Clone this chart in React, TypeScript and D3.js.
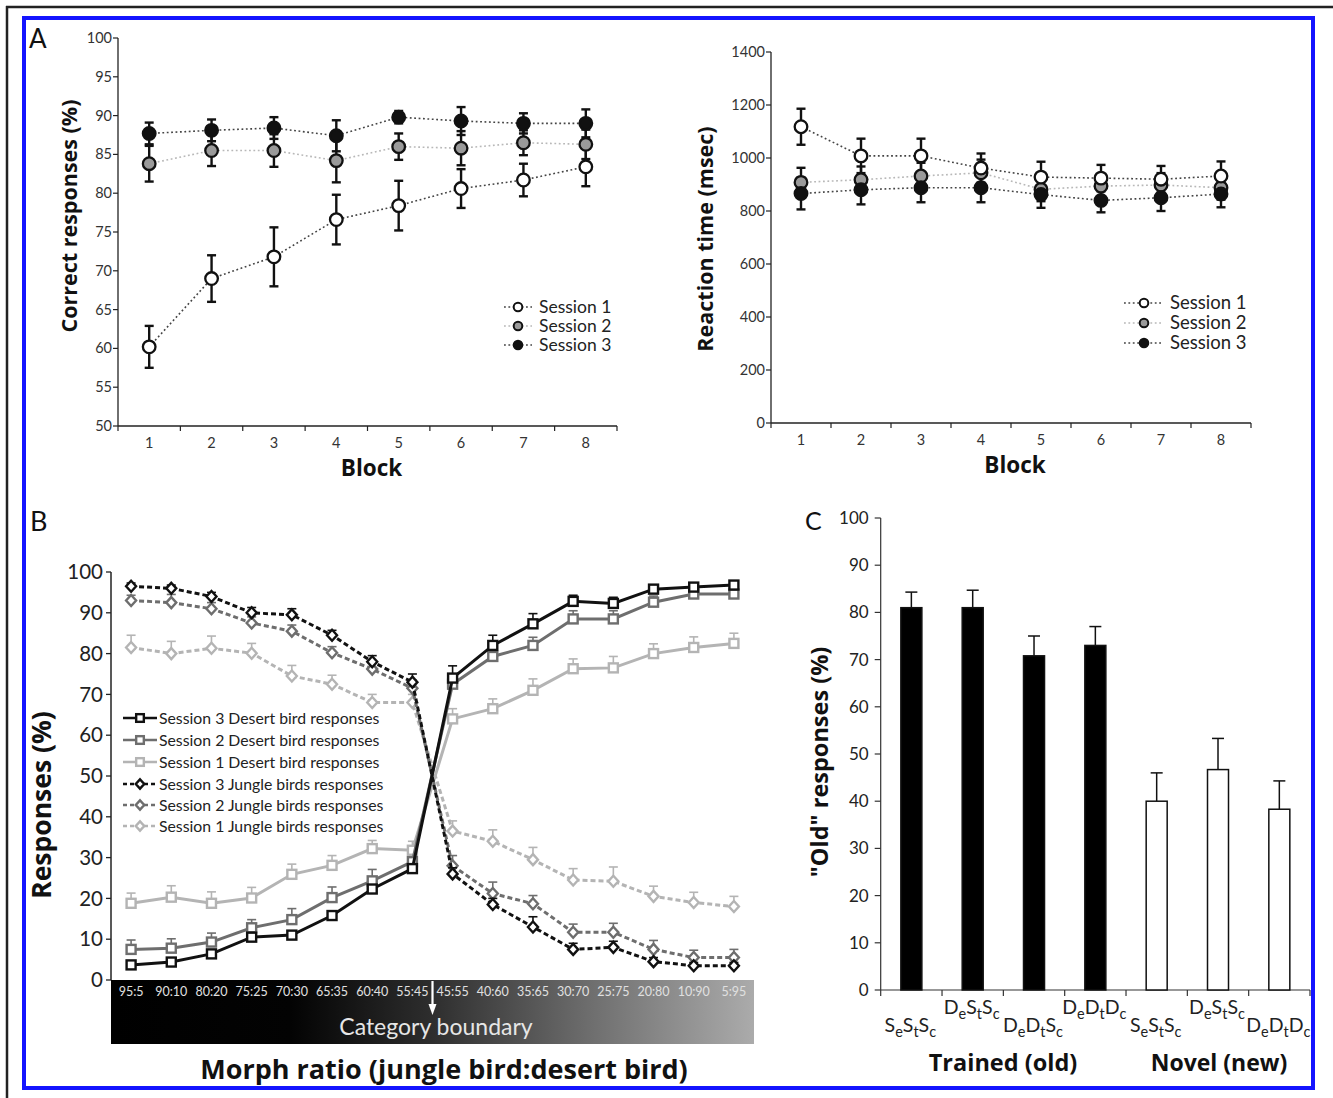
import React from 'react';
import * as d3 from 'd3';

const W = 1333, H = 1098;
const FONT = 'Lato, "Open Sans", sans-serif';
const BOLD = '"Open Sans", "Noto Sans", sans-serif';

// ---------- Panel A data ----------
const blocks = [1, 2, 3, 4, 5, 6, 7, 8];
const accS1 = [60.2, 69.0, 71.8, 76.6, 78.4, 80.6, 81.7, 83.4];
const accS1Err = [2.7, 3.0, 3.8, 3.2, 3.2, 2.5, 2.1, 2.5];
const accS2 = [83.8, 85.5, 85.5, 84.2, 86.0, 85.8, 86.5, 86.3];
const accS2Err = [2.3, 2.0, 2.1, 2.8, 1.7, 2.2, 1.6, 1.9];
const accS3 = [87.7, 88.1, 88.4, 87.4, 89.8, 89.3, 89.0, 89.0];
const accS3Err = [1.4, 1.4, 1.4, 2.0, 0.8, 1.8, 1.3, 1.8];
const accTicks = [50, 55, 60, 65, 70, 75, 80, 85, 90, 95, 100];

const rtS1 = [1118, 1008, 1008, 962, 928, 924, 920, 932];
const rtS1Err = [68, 65, 65, 55, 58, 50, 50, 55];
const rtS2 = [908, 918, 932, 944, 882, 894, 898, 888];
const rtS2Err = [55, 50, 50, 50, 45, 45, 45, 45];
const rtS3 = [866, 880, 888, 888, 862, 840, 850, 864];
const rtS3Err = [60, 55, 55, 55, 50, 45, 50, 50];
const rtTicks = [0, 200, 400, 600, 800, 1000, 1200, 1400];
const sessionNames = ['Session 1', 'Session 2', 'Session 3'];

// ---------- Panel B data ----------
const ratios = ['95:5', '90:10', '80:20', '75:25', '70:30', '65:35', '60:40', '55:45', '45:55', '40:60', '35:65', '30:70', '25:75', '20:80', '10:90', '5:95'];
const s3Desert = [3.7, 4.4, 6.4, 10.5, 11.0, 15.8, 22.3, 27.3, 74.0, 82.0, 87.3, 92.8, 92.3, 95.8, 96.3, 96.8];
const s3DesertErr = [0.6, 0.6, 0.8, 0.8, 1.0, 0.8, 1.0, 1.0, 3.0, 2.5, 2.5, 1.5, 1.5, 1.0, 1.0, 1.0];
const s2Desert = [7.5, 7.8, 9.3, 12.8, 14.8, 20.2, 24.3, 29.0, 72.5, 79.3, 82.0, 88.5, 88.5, 92.6, 94.6, 94.6];
const s2DesertErr = [2.3, 2.3, 2.2, 2.0, 2.7, 2.6, 2.8, 1.0, 2.0, 2.0, 2.0, 2.0, 2.0, 1.5, 1.0, 1.0];
const s1Desert = [18.8, 20.3, 18.8, 20.1, 25.9, 28.1, 32.2, 31.8, 64.0, 66.5, 71.0, 76.3, 76.5, 80.0, 81.5, 82.5];
const s1DesertErr = [2.5, 2.8, 2.8, 2.6, 2.5, 2.4, 2.0, 2.2, 2.5, 2.4, 2.8, 2.4, 2.8, 2.4, 2.6, 2.5];
const s3Jungle = [96.5, 96.0, 94.0, 90.0, 89.5, 84.5, 78.0, 73.0, 26.0, 18.5, 13.0, 7.5, 8.0, 4.5, 3.5, 3.5];
const s3JungleErr = [0.8, 0.8, 1.0, 1.3, 1.5, 1.2, 1.5, 2.0, 1.5, 1.5, 2.5, 1.5, 1.5, 1.0, 0.8, 0.8];
const s2Jungle = [93.0, 92.5, 91.0, 87.5, 85.5, 80.2, 76.2, 71.5, 28.0, 21.2, 18.7, 11.7, 11.7, 7.5, 5.5, 5.5];
const s2JungleErr = [1.3, 2.0, 1.5, 1.5, 1.5, 1.5, 1.5, 2.0, 2.5, 2.8, 2.0, 2.0, 2.2, 2.2, 1.8, 2.0];
const s1Jungle = [81.5, 80.0, 81.3, 80.1, 74.5, 72.5, 68.0, 68.0, 36.5, 34.0, 29.5, 24.5, 24.2, 20.5, 19.0, 18.0];
const s1JungleErr = [3.0, 3.0, 3.0, 2.4, 2.6, 2.2, 2.0, 2.0, 2.5, 2.8, 3.0, 2.8, 3.5, 2.5, 2.5, 2.5];
const bTicks = [0, 10, 20, 30, 40, 50, 60, 70, 80, 90, 100];
const bLegend = [
  'Session 3 Desert bird responses',
  'Session 2 Desert bird responses',
  'Session 1 Desert bird responses',
  'Session 3 Jungle birds responses',
  'Session 2 Jungle birds responses',
  'Session 1 Jungle birds responses',
];

// ---------- Panel C data ----------
const cLabels = ['SeStSc', 'DeStSc', 'DeDtSc', 'DeDtDc', 'SeStSc', 'DeStSc', 'DeDtDc'];
const cVals = [81.0, 81.0, 70.8, 73.0, 40.0, 46.7, 38.3];
const cErr = [3.3, 3.7, 4.2, 4.0, 6.0, 6.6, 6.0];
const cTrained = [true, true, true, true, false, false, false];
const cTicks = [0, 10, 20, 30, 40, 50, 60, 70, 80, 90, 100];

// ---------- helpers ----------
type Pt = { x: number; y: number };

function Circ({ x, y, r, fill }: { x: number; y: number; r: number; fill: string }) {
  return <circle cx={x} cy={y} r={r} fill={fill} stroke="#111" strokeWidth={2.3} />;
}

function PanelA() {
  const xL = d3.scaleBand<number>().domain(blocks).range([118, 617]);
  const yL = d3.scaleLinear().domain([50, 100]).range([426, 38]);
  const xR = d3.scaleBand<number>().domain(blocks).range([771, 1251]);
  const yR = d3.scaleLinear().domain([0, 1400]).range([423, 52]);

  const series = [
    { acc: accS1, accE: accS1Err, rt: rtS1, rtE: rtS1Err, fill: '#ffffff', line: '#444' },
    { acc: accS2, accE: accS2Err, rt: rtS2, rtE: rtS2Err, fill: '#9a9a9a', line: '#b8b8b8' },
    { acc: accS3, accE: accS3Err, rt: rtS3, rtE: rtS3Err, fill: '#111111', line: '#444' },
  ];

  const renderChart = (
    xs: d3.ScaleBand<number>,
    ys: d3.ScaleLinear<number, number>,
    key: 'acc' | 'rt',
    ticks: number[],
    yLabel: string,
    yLabelX: number,
    yLabelY: number,
    legend: { lx0: number; lx1: number; mx: number; tx: number; ys: number[]; fs: number },
  ) => {
    const cx = (b: number) => (xs(b) as number) + xs.bandwidth() / 2;
    const [y0, y1] = ys.range();
    const [x0, x1] = xs.range();
    const lineGen = d3.line<Pt>().x(d => d.x).y(d => d.y);
    const bounds = d3.range(blocks.length + 1).map(i => x0 + i * xs.bandwidth());
    const order = [1, 0, 2];
    return (
      <g>
        <line x1={x0} x2={x0} y1={y1} y2={y0} stroke="#222" strokeWidth={1.3} />
        <line x1={x0} x2={x1} y1={y0} y2={y0} stroke="#222" strokeWidth={1.3} />
        {ticks.map(t => (
          <g key={t}>
            <line x1={x0 - 5} x2={x0} y1={ys(t)} y2={ys(t)} stroke="#222" strokeWidth={1.2} />
            <text x={x0 - 6} y={ys(t)} dy="0.35em" textAnchor="end" fontSize={14.5} fill="#333" fontFamily={FONT}>{t}</text>
          </g>
        ))}
        {bounds.map((b, i) => (
          <line key={i} x1={b} x2={b} y1={y0} y2={y0 + 5} stroke="#222" strokeWidth={1.2} />
        ))}
        {blocks.map(b => (
          <text key={b} x={cx(b)} y={y0 + 22} textAnchor="middle" fontSize={14.5} fill="#333" fontFamily={FONT}>{b}</text>
        ))}
        <text x={(x0 + x1) / 2 + 4} y={y0 + 50} textAnchor="middle" fontSize={22.5} fontWeight="bold" fill="#111" fontFamily={BOLD}>Block</text>
        <text transform={`translate(${yLabelX},${yLabelY}) rotate(-90)`} textAnchor="middle" fontSize={21.5} fontWeight="bold" fill="#111" fontFamily={BOLD}>{yLabel}</text>
        {order.map(si => {
          const s = series[si];
          const vals = s[key];
          const pts = blocks.map((b, i) => ({ x: cx(b), y: ys(vals[i]) }));
          return <path key={'l' + si} d={lineGen(pts) || ''} fill="none" stroke={s.line} strokeWidth={1.6} strokeDasharray="1.8,2.6" />;
        })}
        {order.map(si => {
          const s = series[si];
          const vals = s[key];
          const errs = key === 'acc' ? s.accE : s.rtE;
          return (
            <g key={'e' + si}>
              {blocks.map((b, i) => {
                const x = cx(b);
                const ya = ys(vals[i] + errs[i]);
                const yb = ys(vals[i] - errs[i]);
                return (
                  <g key={i} stroke="#111" strokeWidth={2.4}>
                    <line x1={x} x2={x} y1={ya} y2={yb} />
                    <line x1={x - 4.5} x2={x + 4.5} y1={ya} y2={ya} />
                    <line x1={x - 4.5} x2={x + 4.5} y1={yb} y2={yb} />
                  </g>
                );
              })}
            </g>
          );
        })}
        {order.map(si => {
          const s = series[si];
          const vals = s[key];
          return (
            <g key={'m' + si}>
              {blocks.map((b, i) => (
                <Circ key={i} x={cx(b)} y={ys(vals[i])} r={6.3} fill={s.fill} />
              ))}
            </g>
          );
        })}
        {series.map((s, i) => (
          <g key={'lg' + i}>
            <line x1={legend.lx0} x2={legend.lx1} y1={legend.ys[i]} y2={legend.ys[i]} stroke={s.line} strokeWidth={1.6} strokeDasharray="1.8,2.6" />
            <circle cx={legend.mx} cy={legend.ys[i]} r={4.3} fill={s.fill} stroke="#111" strokeWidth={2} />
            <text x={legend.tx} y={legend.ys[i]} dy="0.35em" fontSize={legend.fs} fill="#222" fontFamily={FONT}>{sessionNames[i]}</text>
          </g>
        ))}
      </g>
    );
  };

  return (
    <g>
      {renderChart(xL, yL, 'acc', accTicks, 'Correct responses (%)', 77, 216, { lx0: 504, lx1: 532, mx: 518, tx: 539, ys: [307, 326, 345], fs: 17.5 })}
      {renderChart(xR, yR, 'rt', rtTicks, 'Reaction time (msec)', 713, 239, { lx0: 1124, lx1: 1162, mx: 1144, tx: 1170, ys: [303, 323, 343], fs: 18.5 })}
    </g>
  );
}

function PanelB() {
  const x = d3.scaleBand<string>().domain(ratios).range([111, 754]);
  const y = d3.scaleLinear().domain([0, 100]).range([980, 572]);
  const cx = (r: string) => (x(r) as number) + x.bandwidth() / 2;
  const lineGen = d3.line<Pt>().x(d => d.x).y(d => d.y);

  const series = [
    { v: s1Jungle, e: s1JungleErr, c: '#b4b4b4', dash: true, shape: 'd' },
    { v: s1Desert, e: s1DesertErr, c: '#b4b4b4', dash: false, shape: 's' },
    { v: s2Jungle, e: s2JungleErr, c: '#6e6e6e', dash: true, shape: 'd' },
    { v: s2Desert, e: s2DesertErr, c: '#6e6e6e', dash: false, shape: 's' },
    { v: s3Jungle, e: s3JungleErr, c: '#111111', dash: true, shape: 'd' },
    { v: s3Desert, e: s3DesertErr, c: '#111111', dash: false, shape: 's' },
  ];
  const legendStyle = [
    { c: '#111111', dash: false, shape: 's' },
    { c: '#6e6e6e', dash: false, shape: 's' },
    { c: '#b4b4b4', dash: false, shape: 's' },
    { c: '#111111', dash: true, shape: 'd' },
    { c: '#6e6e6e', dash: true, shape: 'd' },
    { c: '#b4b4b4', dash: true, shape: 'd' },
  ];
  const legendY = [718, 740, 762, 784, 805, 826];

  const marker = (shape: string, px: number, py: number, c: string, k: string, size = 1) =>
    shape === 's' ? (
      <rect key={k} x={px - 4.5 * size} y={py - 4.5 * size} width={9 * size} height={9 * size} fill="#fff" stroke={c} strokeWidth={2.4} />
    ) : (
      <path key={k} d={`M${px},${py - 5.5 * size}L${px + 5 * size},${py}L${px},${py + 5.5 * size}L${px - 5 * size},${py}Z`} fill="#fff" stroke={c} strokeWidth={2.4} />
    );

  const [gx0, gx1] = x.range();
  const arrowX = (cx('55:45') + cx('45:55')) / 2;

  return (
    <g>
      <text x={30} y={531} fontSize={27} fill="#111" fontFamily={FONT}>B</text>
      <defs>
        <linearGradient id="morphGrad" x1="0" x2="1" y1="0" y2="0">
          <stop offset="0" stopColor="#000" />
          <stop offset="0.28" stopColor="#030303" />
          <stop offset="0.5" stopColor="#2e2e2e" />
          <stop offset="0.75" stopColor="#6f6f6f" />
          <stop offset="1" stopColor="#ababab" />
        </linearGradient>
      </defs>
      <rect x={gx0} y={980} width={gx1 - gx0} height={64} fill="url(#morphGrad)" />
      <line x1={gx0} x2={gx0} y1={572} y2={980} stroke="#222" strokeWidth={1.5} />
      {bTicks.map(t => (
        <g key={t}>
          <line x1={gx0 - 5} x2={gx0} y1={y(t)} y2={y(t)} stroke="#222" strokeWidth={1.3} />
          <text x={gx0 - 8} y={y(t)} dy="0.35em" textAnchor="end" fontSize={20.5} fill="#222" fontFamily={FONT}>{t}</text>
        </g>
      ))}
      <text transform={`translate(51,805) rotate(-90)`} textAnchor="middle" fontSize={26.5} fontWeight="bold" fill="#111" fontFamily={BOLD}>Responses (%)</text>
      {ratios.map(r => (
        <text key={r} x={cx(r)} y={996} textAnchor="middle" fontSize={12.5} fill="#e0e0e0" fontFamily={FONT}>{r}</text>
      ))}
      <line x1={arrowX} x2={arrowX} y1={981} y2={1006} stroke="#fff" strokeWidth={2.2} />
      <path d={`M${arrowX - 4},${1004}L${arrowX + 4},${1004}L${arrowX},${1015}Z`} fill="#fff" />
      <text x={436} y={1035} textAnchor="middle" fontSize={23} fill="#e6e6e6" fontFamily={FONT}>Category boundary</text>
      <text x={444} y={1079} textAnchor="middle" fontSize={27} fontWeight="bold" fill="#111" fontFamily={BOLD}>Morph ratio (jungle bird:desert bird)</text>
      {series.map((s, si) => {
        const pts = ratios.map((r, i) => ({ x: cx(r), y: y(s.v[i]) }));
        return (
          <g key={si}>
            <path d={lineGen(pts) || ''} fill="none" stroke={s.c} strokeWidth={3} strokeDasharray={s.dash ? '5,3' : undefined} />
            {ratios.map((r, i) => {
              const px = cx(r);
              const yt = y(s.v[i] + s.e[i]);
              return (
                <g key={'e' + i} stroke={s.c} strokeWidth={1.6}>
                  <line x1={px} x2={px} y1={y(s.v[i])} y2={yt} />
                  <line x1={px - 4.5} x2={px + 4.5} y1={yt} y2={yt} />
                </g>
              );
            })}
            {ratios.map((r, i) => marker(s.shape, cx(r), y(s.v[i]), s.c, 'm' + i))}
          </g>
        );
      })}
      {bLegend.map((name, i) => {
        const ls = legendStyle[i];
        return (
          <g key={'lg' + i}>
            <line x1={123} x2={157} y1={legendY[i]} y2={legendY[i]} stroke={ls.c} strokeWidth={2.4} strokeDasharray={ls.dash ? '4,3' : undefined} />
            {marker(ls.shape, 140, legendY[i], ls.c, 'lm' + i, 0.85)}
            <text x={159} y={legendY[i]} dy="0.35em" fontSize={15.8} fill="#222" fontFamily={FONT}>{name}</text>
          </g>
        );
      })}
    </g>
  );
}

function SubLabel({ x, y, label }: { x: number; y: number; label: string }) {
  const parts: { big: string; small: string }[] = [];
  for (let i = 0; i < label.length; i += 2) parts.push({ big: label[i], small: label[i + 1] });
  return (
    <text x={x} y={y} textAnchor="middle" fontSize={19.5} fill="#222" fontFamily={FONT}>
      {parts.map((p, i) => (
        <React.Fragment key={i}>
          <tspan dy={i === 0 ? 0 : -5} fontSize={19.5}>{p.big}</tspan>
          <tspan dy={5} fontSize={14.5}>{p.small}</tspan>
        </React.Fragment>
      ))}
    </text>
  );
}

function PanelC() {
  const idx = cVals.map((_, i) => i);
  const x = d3.scaleBand<number>().domain(idx).range([880.7, 1310]);
  const y = d3.scaleLinear().domain([0, 100]).range([990, 518]);
  const bw = 21;
  const cx = (i: number) => (x(i) as number) + x.bandwidth() / 2;
  const [x0, x1] = x.range();
  const bounds = d3.range(idx.length + 1).map(i => x0 + i * x.bandwidth());
  return (
    <g>
      <text x={805} y={530} fontSize={25} fill="#111" fontFamily={FONT}>C</text>
      <line x1={x0} x2={x0} y1={518} y2={990} stroke="#333" strokeWidth={1.2} />
      <line x1={x0} x2={x1} y1={990} y2={990} stroke="#333" strokeWidth={1.2} />
      {cTicks.map(t => (
        <g key={t}>
          <line x1={x0 - 6} x2={x0} y1={y(t)} y2={y(t)} stroke="#333" strokeWidth={1.2} />
          <text x={x0 - 12} y={y(t)} dy="0.35em" textAnchor="end" fontSize={17} fill="#222" fontFamily={FONT}>{t}</text>
        </g>
      ))}
      {bounds.map((b, i) => (
        <line key={i} x1={b} x2={b} y1={990} y2={996} stroke="#333" strokeWidth={1.2} />
      ))}
      {idx.map(i => {
        const top = y(cVals[i]);
        const et = y(cVals[i] + cErr[i]);
        return (
          <g key={i}>
            <line x1={cx(i)} x2={cx(i)} y1={top} y2={et} stroke="#111" strokeWidth={1.5} />
            <line x1={cx(i) - 6} x2={cx(i) + 6} y1={et} y2={et} stroke="#111" strokeWidth={1.5} />
            <rect x={cx(i) - bw / 2} y={top} width={bw} height={990 - top} fill={cTrained[i] ? '#000' : '#fff'} stroke="#111" strokeWidth={1.5} />
          </g>
        );
      })}
      {idx.map(i => (
        <SubLabel key={'lab' + i} x={cx(i) - 1} y={i % 2 === 0 ? 1032 : 1014} label={cLabels[i]} />
      ))}
      <text transform={`translate(828,762) rotate(-90)`} textAnchor="middle" fontSize={23.5} fontWeight="bold" fill="#111" fontFamily={BOLD}>"Old" responses (%)</text>
      <text x={1003} y={1071} textAnchor="middle" fontSize={23.5} fontWeight="bold" fill="#111" fontFamily={BOLD}>Trained (old)</text>
      <text x={1219} y={1071} textAnchor="middle" fontSize={23} fontWeight="bold" fill="#111" fontFamily={BOLD}>Novel (new)</text>
    </g>
  );
}

export default function App() {
  return (
    <svg width={W} height={H} viewBox={`0 0 ${W} ${H}`} style={{ position: 'absolute', left: 0, top: 0, background: '#fff' }}>
      <rect x={0} y={0} width={W} height={H} fill="#fff" />
      <line x1={6} x2={W} y1={7} y2={7} stroke="#222" strokeWidth={2.5} />
      <line x1={7} x2={7} y1={6} y2={H} stroke="#222" strokeWidth={2.5} />
      <text x={29} y={48} fontSize={26} fill="#111" fontFamily={FONT}>A</text>
      <PanelA />
      <PanelB />
      <PanelC />
      <rect x={24} y={18} width={1289} height={1070} fill="none" stroke="#1414ff" strokeWidth={4} />
    </svg>
  );
}
